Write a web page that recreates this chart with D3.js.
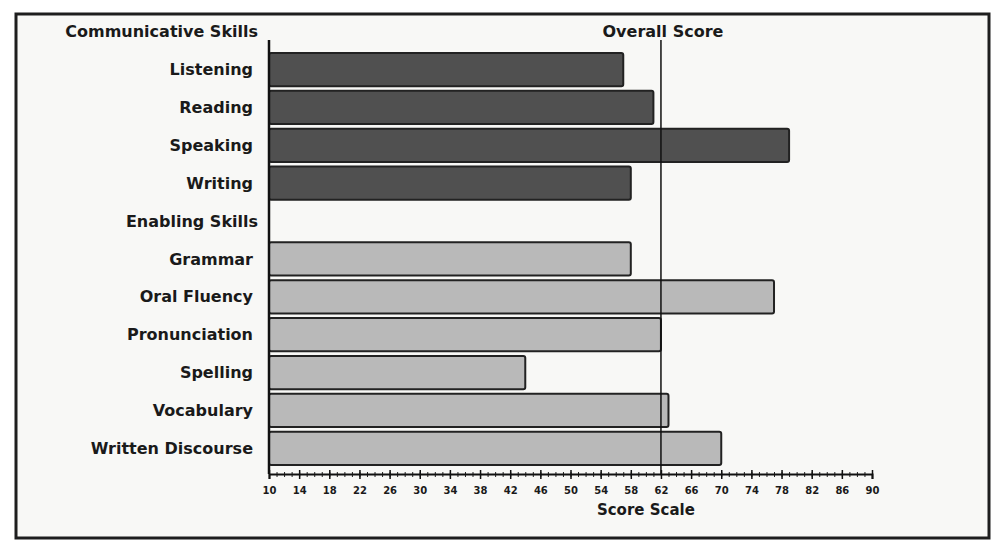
<!DOCTYPE html>
<html>
<head>
<meta charset="utf-8">
<script src="https://cdn.jsdelivr.net/npm/d3@7"></script>
<style>
  body { margin: 0; background: #fff; }
  text { font-family: "DejaVu Sans", Verdana, sans-serif; font-weight: bold; fill: #1a1a1a; }
</style>
</head>
<body>
<div id="chart-area"></div>
<script>
// skills and scores
var commSkills = ["Listening", "Reading", "Speaking", "Writing"];
var commScores = [57, 61, 79, 58];
var enablingSkills = ["Grammar", "Oral Fluency", "Pronunciation", "Spelling", "Vocabulary", "Written Discourse"];
var enablingScores = [58, 77, 62, 44, 63, 70];
var overallScore = 62;
var tickLabels = [10, 14, 18, 22, 26, 30, 34, 38, 42, 46, 50, 54, 58, 62, 66, 70, 74, 78, 82, 86, 90];

var rows = ["Communicative Skills"].concat(commSkills, ["Enabling Skills"], enablingSkills);
var headers = ["Communicative Skills", "Enabling Skills"];

var data = [];
commSkills.forEach(function(d, i){
    data.push({name: d, score: commScores[i], group: "comm"});
});
enablingSkills.forEach(function(d, i){
    data.push({name: d, score: enablingScores[i], group: "enabling"});
});

var W = 998, H = 547;
var svg = d3.select("#chart-area")
    .append("svg")
    .attr("width", W)
    .attr("height", H);

// paper frame
svg.append("rect")
    .attr("x", 16)
    .attr("y", 14)
    .attr("width", 973)
    .attr("height", 524)
    .attr("fill", "#f8f8f6")
    .attr("stroke", "#1e1e1e")
    .attr("stroke-width", 3);

var x = d3.scaleLinear()
    .domain([10, 90])
    .range([269, 872]);

var y = d3.scaleBand()
    .domain(rows)
    .range([15, 465])
    .paddingInner(0.12);

var axisY = 474;

// row labels
svg.selectAll("text.row-label")
    .data(rows)
    .enter()
    .append("text")
    .attr("class", "row-label")
    .attr("x", function(d){
        return headers.indexOf(d) >= 0 ? x(10) - 11 : x(10) - 16;
    })
    .attr("y", function(d){
        return y(d) + y.bandwidth() / 2;
    })
    .attr("dy", "0.35em")
    .attr("text-anchor", "end")
    .attr("font-size", "16px")
    .attr("fill", function(d){
        return headers.indexOf(d) >= 0 ? "#111" : "#2e2e2e";
    })
    .text(function(d){ return d; });

// bars
svg.selectAll("rect.bar")
    .data(data)
    .enter()
    .append("rect")
    .attr("class", "bar")
    .attr("x", x(10))
    .attr("y", function(d){ return y(d.name); })
    .attr("width", function(d){ return x(d.score) - x(10); })
    .attr("height", y.bandwidth())
    .attr("rx", 2)
    .attr("fill", function(d){
        return d.group == "comm" ? "#505050" : "#b9b9b9";
    })
    .attr("stroke", "#222")
    .attr("stroke-width", 2);

// overall score line
svg.append("line")
    .attr("x1", x(overallScore))
    .attr("x2", x(overallScore))
    .attr("y1", y(rows[0]) + y.bandwidth() * 0.75)
    .attr("y2", axisY)
    .attr("stroke", "#111")
    .attr("stroke-width", 1.5);

svg.append("text")
    .attr("x", x(overallScore) + 2)
    .attr("y", y(rows[0]) + y.bandwidth() / 2)
    .attr("dy", "0.35em")
    .attr("text-anchor", "middle")
    .attr("font-size", "16px")
    .attr("fill", "#111")
    .text("Overall Score");

// left axis line
svg.append("line")
    .attr("x1", x(10))
    .attr("x2", x(10))
    .attr("y1", y(rows[0]) + y.bandwidth() * 0.75)
    .attr("y2", axisY)
    .attr("stroke", "#111")
    .attr("stroke-width", 2.5);

// bottom axis: minor ticks every 1, labels every 4
var minor = svg.append("g")
    .attr("transform", "translate(0," + axisY + ")")
    .call(d3.axisBottom(x).tickValues(d3.range(10, 91, 1)).tickSize(3).tickFormat(""));
minor.selectAll("line").attr("y1", -2).attr("stroke", "#222");
minor.select(".domain").remove();

var xAxisCall = d3.axisBottom(x)
    .tickValues(tickLabels)
    .tickSize(5)
    .tickPadding(8);
var xAxis = svg.append("g")
    .attr("class", "x axis")
    .attr("transform", "translate(0," + axisY + ")")
    .call(xAxisCall);
xAxis.select(".domain")
    .attr("stroke", "#111")
    .attr("stroke-width", 2);
xAxis.selectAll(".tick line")
    .attr("y1", -4)
    .attr("stroke", "#111")
    .attr("stroke-width", 1.5);
xAxis.selectAll("text")
    .attr("font-family", "\"DejaVu Sans\", sans-serif")
    .attr("font-weight", "bold")
    .attr("font-size", "10px")
    .attr("fill", "#222");

svg.append("text")
    .attr("x", x(60))
    .attr("y", 515)
    .attr("text-anchor", "middle")
    .attr("font-size", "15px")
    .attr("fill", "#111")
    .text("Score Scale");
</script>
</body>
</html>
